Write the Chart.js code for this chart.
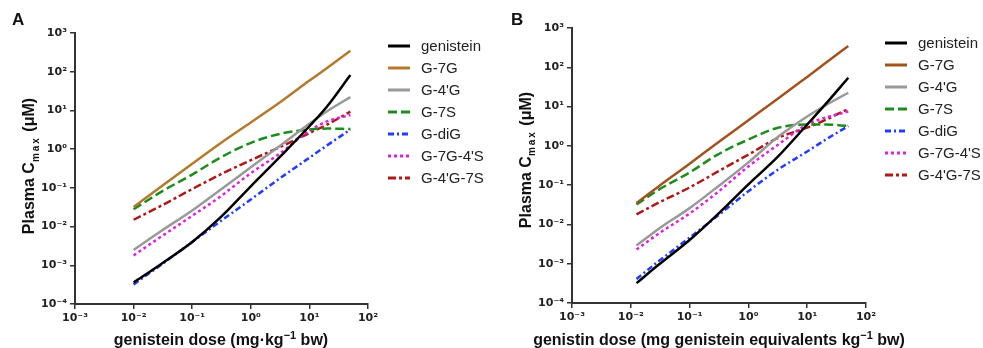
<!DOCTYPE html>
<html>
<head>
<meta charset="utf-8">
<script src="https://cdn.jsdelivr.net/npm/chart.js"></script>
<style>
  body { margin: 0; background: #fff; }
  .panel { position: absolute; top: 0; }
  .letter { position: absolute; font: bold 17px "Liberation Sans", Arial, sans-serif; color: #111; }
</style>
</head>
<body>
<div class="panel" style="left:0"><canvas id="chartA" width="490" height="348"></canvas></div>
<div class="panel" style="left:490px"><canvas id="chartB" width="493" height="348"></canvas></div>
<div class="letter" style="left:12px;top:10px">A</div>
<div class="letter" style="left:511px;top:10px">B</div>
<script>
// series names (same in both panels)
const seriesNames = ['genistein', 'G-7G', "G-4'G", 'G-7S', 'G-diG', "G-7G-4'S", "G-4'G-7S"];

// panel A: genistein dose (mg/kg bw)
const doseA = [0.01, 0.03, 0.1, 0.3, 1, 3.2, 10, 20, 50];
const genisteinA = [3.6e-4, 1.1e-3, 4.0e-3, 0.017, 0.11, 0.65, 3.9, 12.6, 82];
const g7gA = [0.032, 0.11, 0.42, 1.4, 4.9, 16.5, 59, 125, 350];
const g4gA = [2.5e-3, 7.8e-3, 0.026, 0.088, 0.34, 1.25, 4.5, 9.5, 22];
const g7sA = [0.028, 0.08, 0.22, 0.6, 1.45, 2.5, 3.2, 3.4, 3.3];
const gdigA = [3.2e-4, 1.05e-3, 4.0e-3, 0.0135, 0.05, 0.18, 0.6, 1.25, 3.2];
const g7g4sA = [1.8e-3, 5.6e-3, 0.019, 0.059, 0.24, 0.79, 3.0, 5.2, 7.6];
const g4g7sA = [0.015, 0.035, 0.093, 0.22, 0.52, 1.15, 2.6, 4.3, 9.3];

// panel B: genistin dose (mg genistein equivalents/kg bw)
const doseB = [0.0125, 0.03, 0.1, 0.3, 1, 3.2, 10, 20, 50];
const genisteinB = [3.2e-4, 9.5e-4, 4.0e-3, 0.018, 0.105, 0.54, 3.5, 11, 54];
const g7gB = [0.035, 0.094, 0.35, 1.2, 4.5, 16, 57, 124, 350];
const g4gB = [2.9e-3, 7.8e-3, 0.026, 0.091, 0.38, 1.7, 5.6, 10.5, 22.5];
const g7sB = [0.032, 0.077, 0.21, 0.6, 1.45, 2.9, 3.5, 3.5, 3.2];
const gdigB = [4.1e-4, 1.17e-3, 4.6e-3, 0.0165, 0.07, 0.25, 0.72, 1.4, 3.2];
const g7g4sB = [2.3e-3, 5.9e-3, 0.019, 0.066, 0.3, 1.07, 3.5, 5.2, 7.5];
const g4g7sB = [0.018, 0.036, 0.087, 0.22, 0.6, 1.6, 2.9, 4.5, 8.7];

// ticks
const xTickValues = [1e-3, 1e-2, 1e-1, 1, 10, 100];
const xTickLabels = ['10⁻³', '10⁻²', '10⁻¹', '10⁰', '10¹', '10²'];
const yTickValues = [1e-4, 1e-3, 1e-2, 1e-1, 1, 10, 100, 1000];
const yTickLabels = ['10⁻⁴', '10⁻³', '10⁻²', '10⁻¹', '10⁰', '10¹', '10²', '10³'];

const colorsA = ['#000000', '#b47a2c', '#999999', '#1c8c1c', '#1f3cff', '#e020e0', '#b01818'];
const colorsB = ['#000000', '#a2521e', '#999999', '#1c8c1c', '#1f3cff', '#e020e0', '#b01818'];
const dashes = [[], [], [], [9, 4], [6, 3, 2, 3], [3, 3], [8, 3, 3, 3]];

const FONT = '"Liberation Sans", Arial, sans-serif';
const TITLE = 'bold 16px ' + FONT;
const SUP = 'bold 11px ' + FONT;
const SUB = 'bold 10px ' + FONT;

// draws text made of pieces (for superscripts / subscripts), centred on cx
function drawRich(ctx, parts, cx, cy, rotate) {
  ctx.save();
  ctx.translate(cx, cy);
  if (rotate) ctx.rotate(-Math.PI / 2);
  let total = 0;
  parts.forEach(p => {
    ctx.font = p.font;
    ctx.letterSpacing = p.ls || '0px';
    p.w = ctx.measureText(p.t).width;
    total += p.w;
  });
  let x = -total / 2;
  ctx.fillStyle = '#111';
  ctx.textBaseline = 'alphabetic';
  parts.forEach(p => {
    ctx.font = p.font;
    ctx.letterSpacing = p.ls || '0px';
    ctx.fillText(p.t, x, p.dy || 0);
    x += p.w;
  });
  ctx.restore();
}

// axis titles + legend to the right of the plot
const extras = {
  id: 'extras',
  afterDraw(chart, args, opts) {
    const ctx = chart.ctx;
    drawRich(ctx, opts.xTitle, opts.xTitlePos[0], opts.xTitlePos[1], false);
    drawRich(ctx, opts.yTitle, opts.yTitlePos[0], opts.yTitlePos[1], true);
    chart.data.datasets.forEach((ds, i) => {
      const y = opts.legend.top + i * opts.legend.step;
      const left = opts.legend.left;
      ctx.save();
      ctx.strokeStyle = ds.borderColor;
      ctx.lineWidth = 3;
      ctx.setLineDash(ds.borderDash);
      ctx.beginPath();
      ctx.moveTo(left, y);
      ctx.lineTo(left + 22, y);
      ctx.stroke();
      ctx.setLineDash([]);
      ctx.fillStyle = '#222';
      ctx.font = '15px ' + FONT;
      ctx.textBaseline = 'middle';
      ctx.fillText(ds.label, left + 33, y + 1);
      ctx.restore();
    });
  }
};

const yTitleParts = () => [
  {t: 'Plasma C', font: TITLE},
  {t: 'max', font: SUB, dy: 4.5, ls: '2px'},
  {t: ' (μM)', font: TITLE}
];

function makeChart(id, dose, series, colors, xTitle, box) {
  const datasets = series.map((vals, i) => ({
    label: seriesNames[i],
    data: dose.map((d, k) => ({x: d, y: vals[k]})),
    borderColor: colors[i],
    borderWidth: 2.5,
    borderDash: dashes[i],
    pointRadius: 0,
    cubicInterpolationMode: 'monotone',
    fill: false
  }));
  return new Chart(document.getElementById(id), {
    type: 'line',
    data: {datasets: datasets},
    plugins: [extras],
    options: {
      responsive: false,
      animation: false,
      layout: {padding: {left: 0, top: box.top, right: box.right, bottom: 0}},
      plugins: {
        legend: {display: false},
        tooltip: {enabled: false},
        extras: {
          xTitle: xTitle,
          xTitlePos: box.xTitlePos,
          yTitle: yTitleParts(),
          yTitlePos: box.yTitlePos,
          legend: box.legend
        }
      },
      scales: {
        x: {
          type: 'logarithmic',
          min: 1e-3,
          max: 100,
          afterBuildTicks: s => { s.ticks = xTickValues.map(v => ({value: v})); },
          afterFit: s => { s.height = box.xHeight; },
          ticks: {
            callback: (v, i) => xTickLabels[i],
            font: {size: 11, weight: 'bold', family: '"DejaVu Sans", sans-serif'},
            color: '#222',
            padding: 3,
            maxRotation: 0
          },
          grid: {drawOnChartArea: false, tickLength: 5, color: '#333', lineWidth: 1.5},
          border: {color: '#333', width: 2}
        },
        y: {
          type: 'logarithmic',
          min: 1e-4,
          max: 1000,
          afterBuildTicks: s => { s.ticks = yTickValues.map(v => ({value: v})); },
          afterFit: s => { s.width = box.yWidth; },
          ticks: {
            callback: (v, i) => yTickLabels[i],
            font: {size: 11, weight: 'bold', family: '"DejaVu Sans", sans-serif'},
            color: '#222',
            padding: 3
          },
          grid: {drawOnChartArea: false, tickLength: 5, color: '#333', lineWidth: 1.5},
          border: {color: '#333', width: 2}
        }
      }
    }
  });
}

makeChart('chartA', doseA,
  [genisteinA, g7gA, g4gA, g7sA, gdigA, g7g4sA, g4g7sA], colorsA,
  [{t: 'genistein dose (mg·kg', font: TITLE}, {t: '−1', font: SUP, dy: -6}, {t: ' bw)', font: TITLE}],
  {top: 33, right: 122, xHeight: 44, yWidth: 75,
   xTitlePos: [221, 345], yTitlePos: [34, 166],
   legend: {left: 388, top: 46, step: 22}});

makeChart('chartB', doseB,
  [genisteinB, g7gB, g4gB, g7sB, gdigB, g7g4sB, g4g7sB], colorsB,
  [{t: 'genistin dose (mg genistein equivalents kg', font: TITLE}, {t: '−1', font: SUP, dy: -6}, {t: ' bw)', font: TITLE}],
  {top: 28, right: 117, xHeight: 45, yWidth: 82,
   xTitlePos: [229, 345], yTitlePos: [40.5, 160],
   legend: {left: 395, top: 43, step: 22}});
</script>
</body>
</html>
